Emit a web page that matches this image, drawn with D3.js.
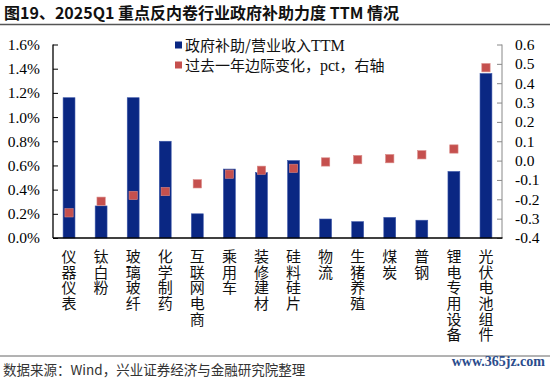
<!DOCTYPE html>
<html><head><meta charset="utf-8">
<script src="https://cdn.jsdelivr.net/npm/d3@7"></script>
<style>body{margin:0;background:#fff}svg{display:block}</style>
</head><body>
<svg id="c" width="550" height="382"></svg>
<script>
const categories = ["仪器仪表","钛白粉","玻璃玻纤","化学制药","互联网电商","乘用车","装修建材","硅料硅片","物流","生猪养殖","煤炭","普钢","锂电专用设备","光伏电池组件"];
const subsidyRatio = [1.16,0.265,1.16,0.80,0.20,0.57,0.54,0.64,0.157,0.135,0.17,0.147,0.55,1.36]; // %
const yoyChange = [-0.27,-0.21,-0.18,-0.16,-0.12,-0.07,-0.05,-0.04,-0.007,0.005,0.01,0.03,0.06,0.48]; // pct
const leftTicks = [0,0.2,0.4,0.6,0.8,1.0,1.2,1.4,1.6];
const rightTicks = [-0.4,-0.3,-0.2,-0.1,0,0.1,0.2,0.3,0.4,0.5,0.6];
const seriesNames = [["政府补助/营业收入","TTM",""],["过去一年边际变化，","pct","，右轴"]];
const title = "图19、2025Q1 重点反内卷行业政府补助力度 TTM 情况";
const source = "数据来源：Wind，兴业证券经济与金融研究院整理";

const svg = d3.select("#c");
const L = 53, R = 502, T = 44.5, B = 238;
const cjk = "'Noto Sans CJK SC','Noto Sans',sans-serif";
const serif = "'Liberation Serif','DejaVu Serif',serif";

// title
svg.append("text").attr("x",4).attr("y",19).attr("font-family",cjk).attr("font-weight","bold")
  .attr("font-size",16).attr("fill","#111").text(title);
svg.append("line").attr("x1",0).attr("x2",550).attr("y1",24.5).attr("y2",24.5).attr("stroke","#555").attr("stroke-width",1.5);

const x = d3.scaleBand().domain(categories).range([L,R]).paddingInner(0.63).paddingOuter(0.315);
const yL = d3.scaleLinear().domain([0,1.6]).range([B,T]);
const yR = d3.scaleLinear().domain([-0.4,0.6]).range([B,T]);

// bars
svg.append("g").selectAll("rect").data(categories).join("rect")
  .attr("x",d=>x(d)).attr("width",x.bandwidth())
  .attr("y",(d,i)=>yL(subsidyRatio[i])).attr("height",(d,i)=>B-yL(subsidyRatio[i]))
  .attr("fill","#0a2783").attr("stroke","#3a55a8").attr("stroke-width",0.6);

// markers
const ms = 8.3;
svg.append("g").selectAll("rect").data(categories).join("rect")
  .attr("x",d=>x(d)+x.bandwidth()/2-ms/2).attr("width",ms)
  .attr("y",(d,i)=>yR(yoyChange[i])-ms/2).attr("height",ms)
  .attr("fill","#c5504e").attr("stroke","#d98885").attr("stroke-width",0.6);

// left axis
const la = svg.append("g").attr("transform",`translate(${L},0)`)
  .call(d3.axisRight(yL).tickValues(leftTicks).tickSize(5).tickFormat(d=>d.toFixed(1)+"%"));
la.attr("font-family",serif);
la.select(".domain").attr("stroke","#000").attr("stroke-width",1.3).attr("d",`M0,${T}V${B}`);
la.selectAll(".tick line").attr("stroke","#000");
la.selectAll(".tick text").attr("x",-13).attr("text-anchor","end").attr("font-family",serif)
  .attr("font-size",15.5).attr("fill","#000");

// right axis
const ra = svg.append("g").attr("transform",`translate(${R},0)`)
  .call(d3.axisLeft(yR).tickValues(rightTicks).tickSize(5).tickFormat(d3.format(".1f")));
ra.attr("font-family",serif);
ra.select(".domain").attr("stroke","#888").attr("stroke-width",1).attr("d",`M0,${T}V${B}`);
ra.selectAll(".tick line").attr("stroke","#888");
ra.selectAll(".tick text").attr("x",13).attr("text-anchor","start").attr("font-family",serif)
  .attr("font-size",15.5).attr("fill","#000").text(d=>d3.format(".1f")(d).replace("−","-"));

// bottom axis
svg.append("line").attr("x1",L).attr("x2",R+0.5).attr("y1",B).attr("y2",B).attr("stroke","#000").attr("stroke-width",1.6);

// category labels (vertical)
svg.append("g").selectAll("text").data(categories).join("text")
  .attr("x",d=>x(d)+x.bandwidth()/2).attr("y",249)
  .style("writing-mode","vertical-rl").style("text-orientation","upright")
  .attr("letter-spacing",0.6)
  .attr("font-family",cjk).attr("font-size",15).attr("fill","#111")
  .text(d=>d);

// legend
const lg = svg.append("g");
[["#0a2783",45],["#c5504e",65]].forEach((c,i)=>{
  lg.append("rect").attr("x",175).attr("y",c[1]-3.5).attr("width",7).attr("height",7).attr("fill",c[0]);
  const t = lg.append("text").attr("x",185).attr("y",c[1]+5.5).attr("font-family",cjk).attr("font-size",15)
    .attr("fill","#111");
  t.append("tspan").text(seriesNames[i][0]);
  t.append("tspan").attr("font-family",serif).attr("font-size",16).text(seriesNames[i][1]);
  t.append("tspan").text(seriesNames[i][2]);
});

// footer
svg.append("line").attr("x1",0).attr("x2",550).attr("y1",356).attr("y2",356).attr("stroke","#666").attr("stroke-width",1);
svg.append("text").attr("x",3).attr("y",375).attr("font-family",cjk).attr("font-size",13.5).attr("fill","#333").text(source);
svg.append("text").attr("x",545).attr("y",366).attr("text-anchor","end").attr("font-family",serif)
  .attr("font-weight","bold").attr("font-size",14).attr("fill","#2b4c8c").text("www.365jz.com");
</script>
</body></html>
